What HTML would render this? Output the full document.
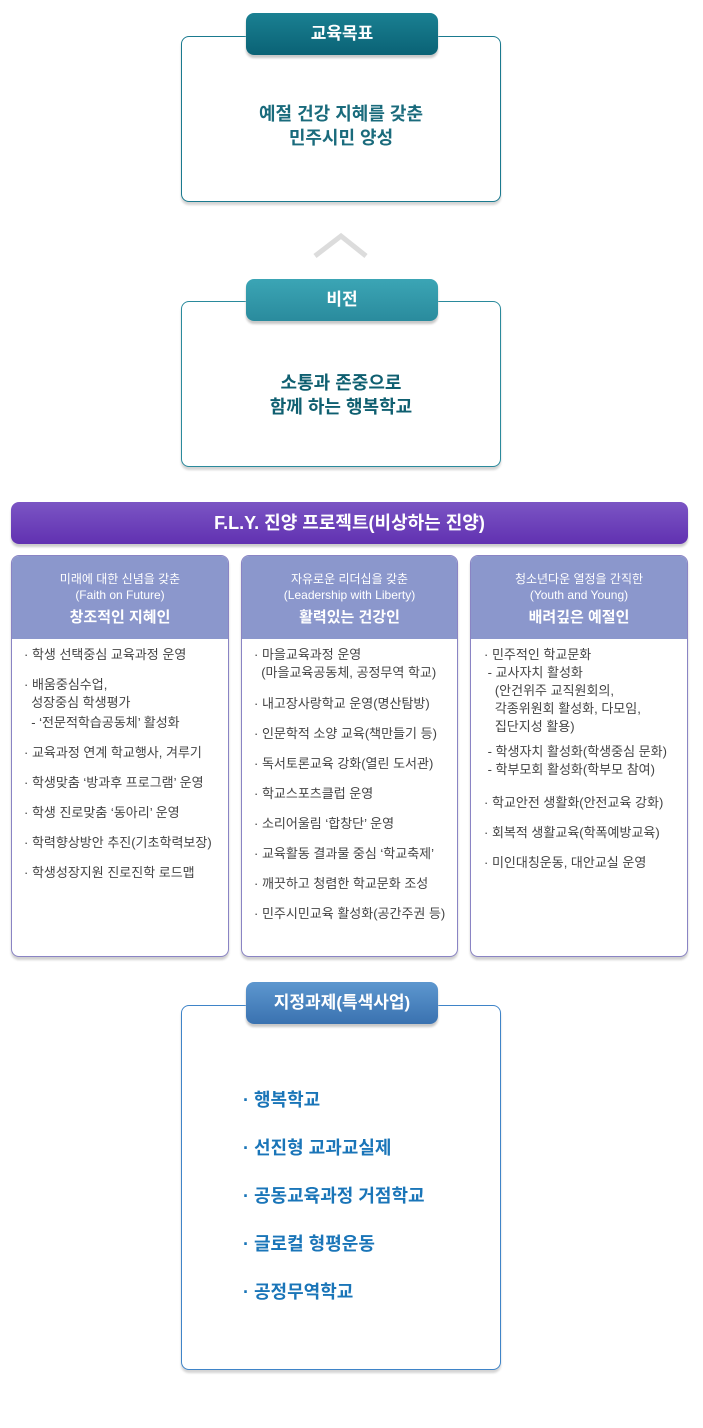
<!DOCTYPE html>
<html><head><meta charset="utf-8"><style>
*{margin:0;padding:0;box-sizing:border-box}
body{width:703px;height:1428px;background:#fff;position:relative;font-family:"Liberation Sans","Noto Sans CJK KR",sans-serif;overflow:hidden}
.a{position:absolute}
.box{position:absolute;background:#fff;border-radius:8px;box-shadow:0 3px 2px #d4d4d4}
.tab{position:absolute;left:246px;width:192px;height:42px;border-radius:8px;color:#fff;font-size:17px;font-weight:bold;text-align:center;line-height:42px;box-shadow:0 3px 2px #c8c8c8}
.big{position:absolute;left:181px;width:320px;text-align:center;font-weight:bold;font-size:18px;line-height:24px}
.col{position:absolute;top:555px;width:218px;height:402px;border:1px solid #8a84c4;border-radius:8px;background:#fff;overflow:hidden;box-shadow:0 3px 2px #d0d0d0}
.hd{height:83px;background:#8b97cc;color:#fff;text-align:center}
.hd .s{font-size:12px;line-height:16px;padding-top:15px}
.hd .b{font-size:15px;font-weight:bold;line-height:20px;margin-top:5px}
.l{position:absolute;font-size:13px;color:#444;line-height:18px;white-space:nowrap}
.bl{position:absolute;left:243px;font-size:18px;font-weight:bold;color:#1a75b8;line-height:24px;white-space:nowrap}
</style></head><body>
<div class="box" style="left:181px;top:36px;width:320px;height:166px;border:1px solid #1a7a8f"></div>
<div class="tab" style="top:13px;background:linear-gradient(#1a8092,#0a6275)">교육목표</div>
<div class="big" style="top:102px;color:#1a6b7c">예절 건강 지혜를 갖춘<br>민주시민 양성</div>

<svg class="a" style="left:0;top:0" width="703" height="280"><polyline points="315,256 341,236 366,256" fill="none" stroke="#dcdcdc" stroke-width="5"/></svg>

<div class="box" style="left:181px;top:301px;width:320px;height:166px;border:1px solid #2a8a9c"></div>
<div class="tab" style="top:279px;background:linear-gradient(#3ba5b5,#2a8b9d)">비전</div>
<div class="big" style="top:371px;color:#0f5f70">소통과 존중으로<br>함께 하는 행복학교</div>

<div class="a" style="left:11px;top:502px;width:677px;height:42px;border-radius:8px;background:linear-gradient(#7b55c4,#6131b1);color:#fff;font-size:18px;font-weight:bold;text-align:center;line-height:42px;box-shadow:0 3px 2px #ccc">F.L.Y. 진양 프로젝트(비상하는 진양)</div>

<div class="col" style="left:11px"><div class="hd"><div class="s">미래에 대한 신념을 갖춘<br>(Faith on Future)</div><div class="b">창조적인 지혜인</div></div></div>
<div class="col" style="left:241px;width:217px"><div class="hd"><div class="s">자유로운 리더십을 갖춘<br>(Leadership with Liberty)</div><div class="b">활력있는 건강인</div></div></div>
<div class="col" style="left:470px"><div class="hd"><div class="s">청소년다운 열정을 간직한<br>(Youth and Young)</div><div class="b">배려깊은 예절인</div></div></div>

<div class="l" style="left:24px;top:646px">· 학생 선택중심 교육과정 운영</div>
<div class="l" style="left:24px;top:676px">· 배움중심수업,</div>
<div class="l" style="left:24px;top:694px">&nbsp;&nbsp;성장중심 학생평가</div>
<div class="l" style="left:24px;top:714px">&nbsp;&nbsp;- ‘전문적학습공동체’ 활성화</div>
<div class="l" style="left:24px;top:744px">· 교육과정 연계 학교행사, 겨루기</div>
<div class="l" style="left:24px;top:774px">· 학생맞춤 ‘방과후 프로그램’ 운영</div>
<div class="l" style="left:24px;top:804px">· 학생 진로맞춤 ‘동아리’ 운영</div>
<div class="l" style="left:24px;top:834px">· 학력향상방안 추진(기초학력보장)</div>
<div class="l" style="left:24px;top:864px">· 학생성장지원 진로진학 로드맵</div>

<div class="l" style="left:254px;top:646px">· 마을교육과정 운영</div>
<div class="l" style="left:254px;top:664px">&nbsp;&nbsp;(마을교육공동체, 공정무역 학교)</div>
<div class="l" style="left:254px;top:695px">· 내고장사랑학교 운영(명산탐방)</div>
<div class="l" style="left:254px;top:725px">· 인문학적 소양 교육(책만들기 등)</div>
<div class="l" style="left:254px;top:755px">· 독서토론교육 강화(열린 도서관)</div>
<div class="l" style="left:254px;top:785px">· 학교스포츠클럽 운영</div>
<div class="l" style="left:254px;top:815px">· 소리어울림 ‘합창단’ 운영</div>
<div class="l" style="left:254px;top:845px">· 교육활동 결과물 중심 ‘학교축제’</div>
<div class="l" style="left:254px;top:875px">· 깨끗하고 청렴한 학교문화 조성</div>
<div class="l" style="left:254px;top:905px">· 민주시민교육 활성화(공간주권 등)</div>

<div class="l" style="left:484px;top:646px">· 민주적인 학교문화</div>
<div class="l" style="left:484px;top:664px">&nbsp;- 교사자치 활성화</div>
<div class="l" style="left:484px;top:682px">&nbsp;&nbsp;&nbsp;(안건위주 교직원회의,</div>
<div class="l" style="left:484px;top:700px">&nbsp;&nbsp;&nbsp;각종위원회 활성화, 다모임,</div>
<div class="l" style="left:484px;top:718px">&nbsp;&nbsp;&nbsp;집단지성 활용)</div>
<div class="l" style="left:484px;top:743px">&nbsp;- 학생자치 활성화(학생중심 문화)</div>
<div class="l" style="left:484px;top:761px">&nbsp;- 학부모회 활성화(학부모 참여)</div>
<div class="l" style="left:484px;top:794px">· 학교안전 생활화(안전교육 강화)</div>
<div class="l" style="left:484px;top:824px">· 회복적 생활교육(학폭예방교육)</div>
<div class="l" style="left:484px;top:854px">· 미인대칭운동, 대안교실 운영</div>

<div class="box" style="left:181px;top:1005px;width:320px;height:365px;border:1px solid #3f84c8"></div>
<div class="tab" style="top:982px;background:linear-gradient(#5d97cf,#3a72b0)">지정과제(특색사업)</div>
<div class="bl" style="top:1088px">· 행복학교</div>
<div class="bl" style="top:1136px">· 선진형 교과교실제</div>
<div class="bl" style="top:1184px">· 공동교육과정 거점학교</div>
<div class="bl" style="top:1232px">· 글로컬 형평운동</div>
<div class="bl" style="top:1280px">· 공정무역학교</div>
</body></html>
